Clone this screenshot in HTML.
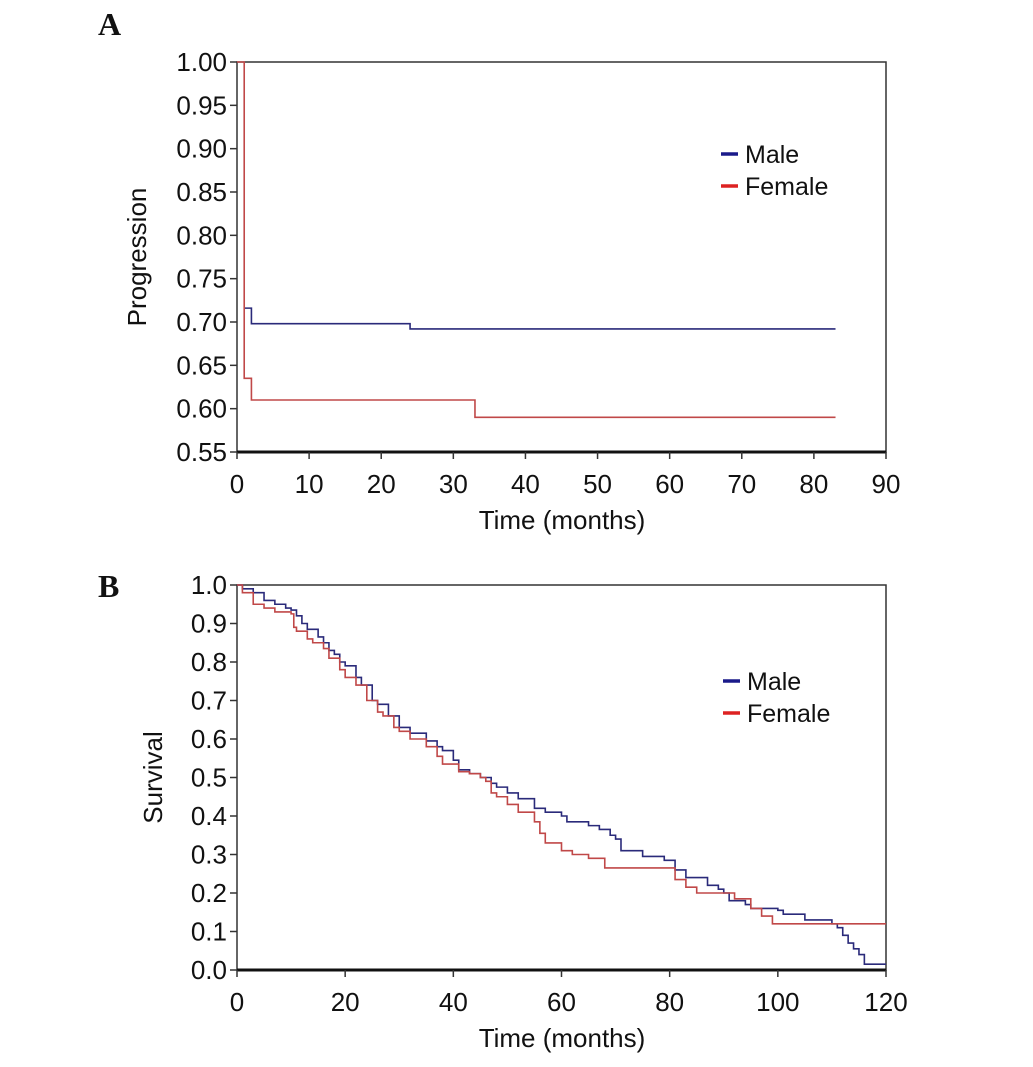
<!DOCTYPE html>
<html><head><meta charset="utf-8"><style>
body{margin:0;background:#fff}
svg text{font-family:"Liberation Sans",sans-serif;fill:#111}
</style></head><body>
<svg id="svg" width="1033" height="1062" xmlns="http://www.w3.org/2000/svg">
<text x="98" y="35" style="font-family:'Liberation Serif',serif;font-weight:bold;font-size:32px">A</text>
<text x="98" y="597" style="font-family:'Liberation Serif',serif;font-weight:bold;font-size:32px">B</text>
<g id="chartA"></g>
<g id="chartB"></g>
</svg>
<script>
const aXTicks=[0,10,20,30,40,50,60,70,80,90];
const aYTicks=["0.55","0.60","0.65","0.70","0.75","0.80","0.85","0.90","0.95","1.00"];
const aMaleT=[1,2,24,83];
const aMaleS=[0.716,0.698,0.692,0.692];
const aFemaleT=[0,1,2,33,83];
const aFemaleS=[1.0,0.635,0.61,0.59,0.59];
const bXTicks=[0,20,40,60,80,100,120];
const bYTicks=["0.0","0.1","0.2","0.3","0.4","0.5","0.6","0.7","0.8","0.9","1.0"];
const bMaleT=[0,1,3,5,7,9,10,11,12,13,15,16,17,18,19,20,22,23,25,26,28,30,32,35,37,38,40,41,43,45,47,48,50,52,55,57,60,61,65,67,69,70,71,75,79,81,83,87,89,90,91,94,95,100,101,105,110,111,112,113,114,115,116,120];
const bMaleS=[1.0,0.99,0.98,0.96,0.95,0.94,0.935,0.92,0.90,0.885,0.865,0.85,0.83,0.82,0.80,0.79,0.76,0.74,0.70,0.69,0.66,0.63,0.615,0.595,0.58,0.57,0.545,0.52,0.51,0.50,0.485,0.475,0.46,0.445,0.42,0.41,0.40,0.385,0.375,0.365,0.35,0.34,0.31,0.295,0.285,0.26,0.24,0.22,0.21,0.20,0.18,0.17,0.16,0.155,0.145,0.13,0.12,0.11,0.09,0.07,0.055,0.04,0.015,0.015];
const bFemaleT=[0,1,3,5,7,10,10.5,11,13,14,16,17,19,20,22,24,26,27,29,30,32,35,37,38,41,43,45,46,47,48,50,52,55,56,57,60,62,65,68,80,81,83,85,90,92,95,97,99,120];
const bFemaleS=[1.0,0.98,0.95,0.94,0.93,0.925,0.89,0.88,0.86,0.85,0.835,0.81,0.78,0.76,0.74,0.70,0.67,0.66,0.63,0.62,0.60,0.58,0.555,0.535,0.515,0.51,0.50,0.49,0.46,0.45,0.43,0.41,0.385,0.355,0.33,0.31,0.30,0.29,0.265,0.265,0.235,0.215,0.20,0.20,0.185,0.16,0.14,0.12,0.12];
const NS="http://www.w3.org/2000/svg";
function mk(g,tag,attrs){const e=document.createElementNS(NS,tag);for(const k in attrs)e.setAttribute(k,attrs[k]);g.appendChild(e);return e;}
function step(T,S,X,Y){let d="M"+X(T[0])+","+Y(S[0]);for(let i=1;i<T.length;i++){d+=" H"+X(T[i])+" V"+Y(S[i]);}return d;}
function draw(g,o){
  const L=237,R=886,top=o.top,bot=o.bot;
  const X=t=>L+(t-o.x0)/(o.x1-o.x0)*(R-L);
  const Y=v=>bot-(v-o.y0)/(o.y1-o.y0)*(bot-top);
  const frame=mk(g,'rect',{x:L,y:top,width:R-L,height:bot-top,fill:'none',stroke:'#333','stroke-width':1.5});
  
  
  const xa=mk(g,'line',{x1:L,x2:R,y1:bot,y2:bot,stroke:'#111','stroke-width':3});
  
  
  o.xt.forEach(t=>{
    mk(g,'line',{x1:X(t),x2:X(t),y1:bot,y2:bot+7,stroke:'#333','stroke-width':1.5});
    const tx=mk(g,'text',{x:X(t),y:bot+41,'text-anchor':'middle','font-size':26});
    tx.textContent=t;
    
    
  });
  o.yt.forEach(s=>{
    const v=parseFloat(s);
    mk(g,'line',{x1:L-7,x2:L,y1:Y(v),y2:Y(v),stroke:'#333','stroke-width':1.5});
    const ty=mk(g,'text',{x:L-10,y:Y(v)+9,'text-anchor':'end','font-size':26});
    ty.textContent=s;
    
    
  });
  const xl=mk(g,'text',{x:562,y:bot+77,'text-anchor':'middle','font-size':26});
  xl.textContent='Time (months)';
  
  
  const yl=mk(g,'text',{x:0,y:0,'text-anchor':'middle','font-size':26,transform:`translate(${o.ylx},${(top+bot)/2}) rotate(-90)`});
  yl.textContent=o.ylab;
  
  
  const m=mk(g,'path',{d:step(o.mT,o.mS,X,Y),fill:'none',stroke:'#2a2a7a','stroke-width':1.6});
  
  
  const f=mk(g,'path',{d:step(o.fT,o.fS,X,Y),fill:'none',stroke:'#c04848','stroke-width':1.6});
  
  
  [['Male','#1a1a8a',0],['Female','#dd2222',32]].forEach(([n,c,dy])=>{
    const ln=mk(g,'line',{x1:o.lx,x2:o.lx+17,y1:o.ly+dy,y2:o.ly+dy,stroke:c,'stroke-width':3.5});
    
    
    const lt=mk(g,'text',{x:o.lx+24,y:o.ly+dy+9,'font-size':25});
    lt.textContent=n;
    
    
  });
}
draw(document.getElementById('chartA'),{top:62,bot:452,x0:0,x1:90,y0:0.55,y1:1.0,xt:aXTicks,yt:aYTicks,ylab:'Progression',ylx:146,mT:aMaleT,mS:aMaleS,fT:aFemaleT,fS:aFemaleS,lx:721,ly:154});
draw(document.getElementById('chartB'),{top:585,bot:970,x0:0,x1:120,y0:0,y1:1.0,xt:bXTicks,yt:bYTicks,ylab:'Survival',ylx:162,mT:bMaleT,mS:bMaleS,fT:bFemaleT,fS:bFemaleS,lx:723,ly:681});
</script>
</body></html>
